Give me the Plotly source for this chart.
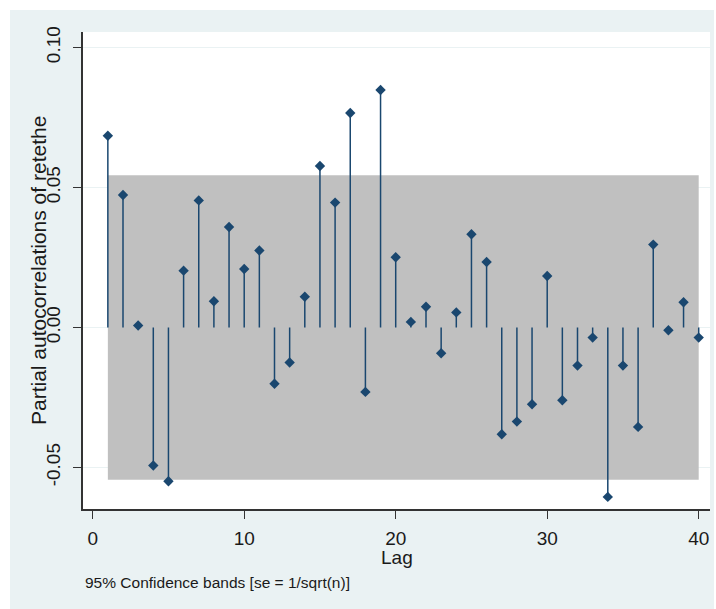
import plotly.graph_objects as go

# ---- data ----
lags = list(range(1, 41))
pacf = [0.0685, 0.0473, 0.0007, -0.0493, -0.0549, 0.0203, 0.0454, 0.0094, 0.0359, 0.0209,
        0.0275, -0.0201, -0.0125, 0.0110, 0.0577, 0.0446, 0.0766, -0.0230, 0.0848, 0.0251,
        0.0020, 0.0074, -0.0092, 0.0054, 0.0333, 0.0234, -0.0381, -0.0336, -0.0274, 0.0184,
        -0.0260, -0.0136, -0.0036, -0.0605, -0.0136, -0.0355, 0.0296, -0.0010, 0.0090, -0.0036]
band = 0.0544
x_ticks = [0, 10, 20, 30, 40]
y_ticks = [-0.05, 0.0, 0.05, 0.10]
y_tick_labels = ["-0.05", "0.00", "0.05", "0.10"]

NAVY = "#1a476f"
BG = "#eaf2f3"
FONT = "Liberation Sans, Arial, sans-serif"

W, H = 716, 609
L, R, T, B = 83, 6, 32, 100
PW, PH = W - L - R, H - T - B

fig = go.Figure()

# confidence band
fig.add_trace(go.Scatter(
    x=[lags[0], lags[-1], lags[-1], lags[0], lags[0]],
    y=[band, band, -band, -band, band],
    fill="toself", fillcolor="#c0c0c0", line=dict(width=0),
    mode="lines", hoverinfo="skip", showlegend=False))

# stems
sx, sy = [], []
for lag, v in zip(lags, pacf):
    sx += [lag, lag, None]
    sy += [0, v, None]
fig.add_trace(go.Scatter(x=sx, y=sy, mode="lines",
                         line=dict(color=NAVY, width=1.5),
                         hoverinfo="skip", showlegend=False))

# markers
fig.add_trace(go.Scatter(x=lags, y=pacf, mode="markers",
                         marker=dict(symbol="diamond", size=8, color=NAVY,
                                     line=dict(width=0)),
                         showlegend=False))

ppx = 15.15
x0px = 92.7
xmin = (L - x0px) / ppx
xmax = xmin + PW / ppx
ppy = 2800.0
zero_px = 327.5
ymax = (zero_px - T) / ppy
ymin = ymax - PH / ppy

fig.update_xaxes(range=[xmin, xmax], tickvals=x_ticks, ticks="outside", ticklen=8,
                 tickwidth=1.3, tickcolor="#333333", showline=True, linecolor="#333333",
                 linewidth=1.5, showgrid=False, zeroline=False,
                 tickfont=dict(family=FONT, size=19, color="#1a1a1a"),
                 ticklabelstandoff=3)
fig.update_yaxes(range=[ymin, ymax], tickvals=y_ticks, ticktext=y_tick_labels,
                 ticks="outside", ticklen=8, tickwidth=1.3, tickcolor="#333333",
                 showline=True, linecolor="#333333", linewidth=1.5,
                 showgrid=True, gridcolor=BG, gridwidth=1.2, zeroline=False,
                 tickangle=-90,
                 tickfont=dict(family=FONT, size=19, color="#1a1a1a"),
                 ticklabelstandoff=6)

def px_x(p):
    return (p - L) / PW

def px_y(p):
    return (H - B - p) / PH

annotations = [
    dict(text="Partial autocorrelations of retethe", xref="paper", yref="paper",
         x=px_x(38), y=px_y(271), xanchor="center", yanchor="middle", textangle=-90,
         showarrow=False, font=dict(family=FONT, size=21, color="#1a1a1a")),
    dict(text="Lag", xref="paper", yref="paper", x=0.5, y=px_y(557),
         xanchor="center", yanchor="middle", showarrow=False,
         font=dict(family=FONT, size=19, color="#1a1a1a")),
    dict(text="95% Confidence bands [se = 1/sqrt(n)]", xref="paper", yref="paper",
         x=px_x(83), y=px_y(582), xanchor="left", yanchor="middle", showarrow=False,
         font=dict(family=FONT, size=15.5, color="#1a1a1a")),
]

shapes = [
    dict(type="rect", xref="paper", yref="paper", x0=px_x(0), x1=px_x(W), y0=px_y(10), y1=px_y(0),
         fillcolor="white", line=dict(width=0), layer="below"),
    dict(type="rect", xref="paper", yref="paper", x0=px_x(0), x1=px_x(10), y0=px_y(H), y1=px_y(0),
         fillcolor="white", line=dict(width=0), layer="below"),
    dict(type="rect", xref="paper", yref="paper", x0=px_x(714), x1=px_x(W), y0=px_y(H), y1=px_y(0),
         fillcolor="white", line=dict(width=0), layer="below"),
]

fig.update_layout(width=W, height=H, margin=dict(l=L, r=R, t=T, b=B, autoexpand=False),
                  paper_bgcolor=BG, plot_bgcolor="white",
                  annotations=annotations, shapes=shapes, showlegend=False)

fig.write_html("out.html", config={"displayModeBar": False},
               post_script="document.body.style.margin='0';document.body.style.overflow='hidden';")
